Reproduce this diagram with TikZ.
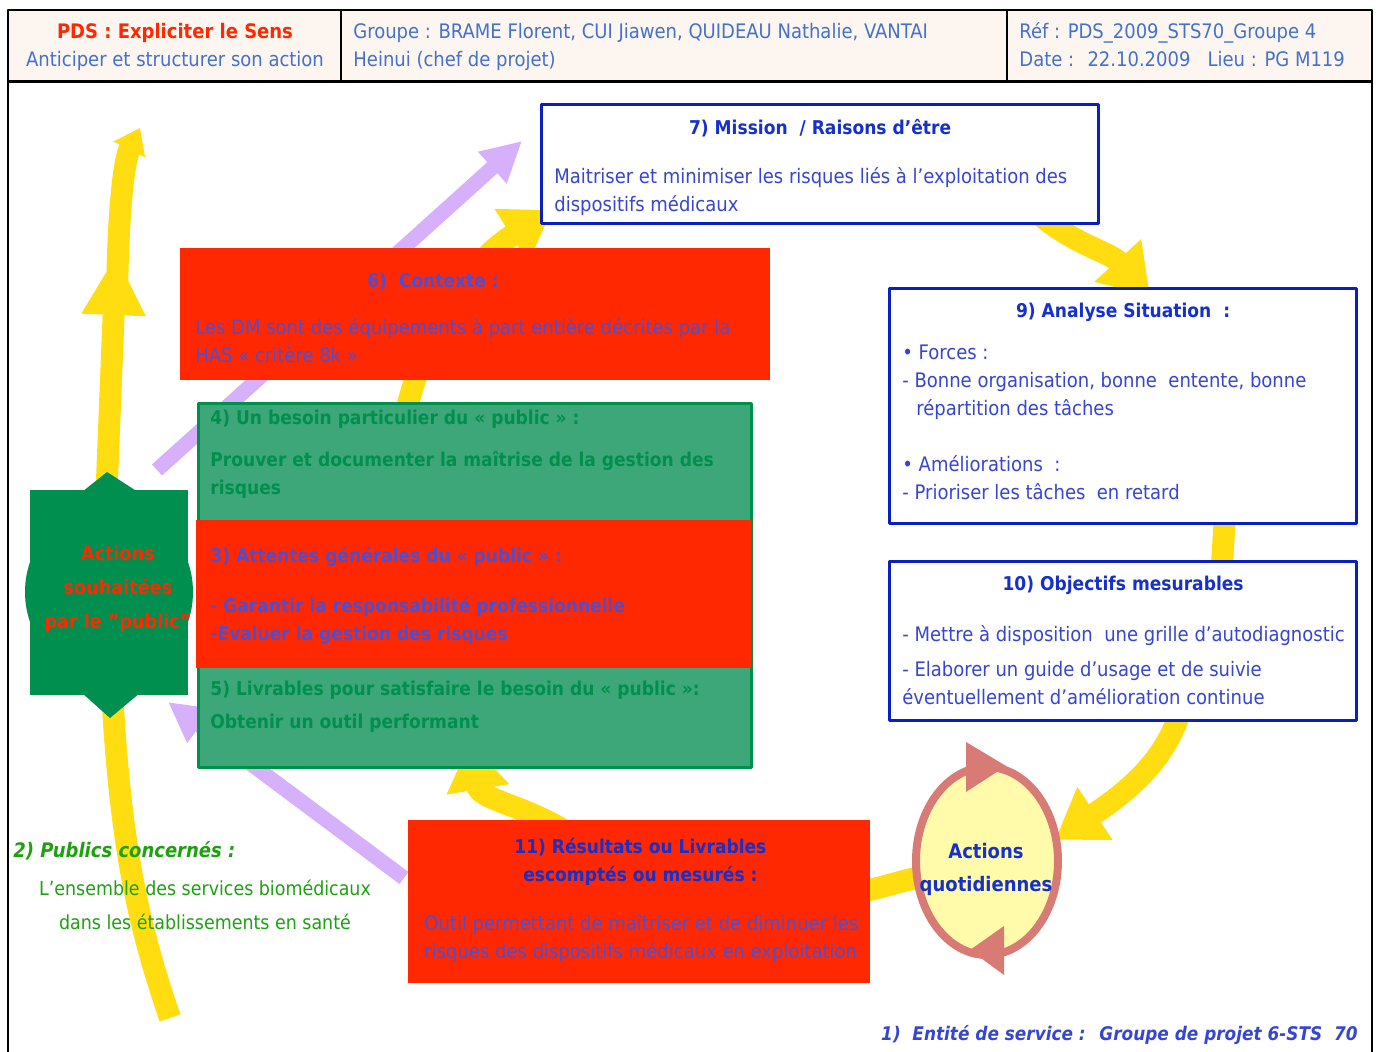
\documentclass[tikz,border=0pt]{standalone}
\usepackage{fontspec}
\setmainfont{DejaVu Sans Condensed}
\usetikzlibrary{arrows.meta}
\definecolor{boxred}{HTML}{FF2800}
\definecolor{frameblue}{HTML}{0A1FBF}
\definecolor{ttlblue}{HTML}{1530CC}
\definecolor{bodyblue}{HTML}{3646D2}
\definecolor{redtxt}{HTML}{4A4FD6}
\definecolor{hdrblue}{HTML}{4272CC}
\definecolor{hdrfill}{HTML}{FDF5EF}
\definecolor{gfill}{HTML}{3EA77A}
\definecolor{gline}{HTML}{00904E}
\definecolor{dkgreen}{HTML}{008F4E}
\definecolor{sunyel}{HTML}{FFDD10}
\definecolor{lilac}{HTML}{D6B0FB}
\definecolor{ringred}{HTML}{D87B75}
\definecolor{ringfill}{HTML}{FFFBAA}
\definecolor{pubgreen}{HTML}{1EA010}
\newcommand\hdrfont{\fontsize{10}{13}\selectfont}
\newcommand\bodyfont{\fontsize{10}{14}\selectfont}
\newcommand\ttlfont{\fontsize{9.5}{14}\selectfont\bfseries}

\begin{document}
\begin{tikzpicture}[x=0.5pt,y=-0.5pt,line join=round,
  txt/.style={inner sep=0pt,align=left},
  yel/.style={draw=sunyel,line width=11pt},
  yeltip/.style={-{Triangle[length=24pt,width=30pt]}},
  vio/.style={draw=lilac,line width=7.5pt,-{Triangle[length=20pt,width=20pt]}},
  redbox/.style={fill=boxred,draw=none,anchor=north west,inner sep=0pt},
  wbox/.style={fill=white,draw=frameblue,line width=1.6pt,anchor=north west,inner sep=0pt},
  gbox/.style={fill=gfill,draw=gline,line width=1.6pt,anchor=north west,inner sep=0pt}]
\useasboundingbox (0,0) rectangle (1377,1052);

% header
\fill[hdrfill] (8,10) rectangle (1372,82);
\draw[line width=1.2pt] (8,1052) -- (8,10) -- (1372,10) -- (1372,1052);
\draw[line width=1.5pt] (8,82) -- (1372,82);
\draw[line width=1pt] (341,10) -- (341,82) (1007,10) -- (1007,82);
\node[txt,anchor=mid,font=\hdrfont\bfseries,text=boxred] (pds) at (175,33) {PDS : Expliciter le Sens};
\node[txt,anchor=mid,font=\hdrfont,text=hdrblue] (antic) at (175,61) {Anticiper et structurer son action};
\node[txt,anchor=mid west,font=\hdrfont,text=hdrblue] (grpa) at (353,33) {Groupe : BRAME Florent, CUI Jiawen, QUIDEAU Nathalie, VANTAI};
\node[txt,anchor=mid west,font=\hdrfont,text=hdrblue] (grpb) at (353,61) {Heinui (chef de projet)};
\node[txt,anchor=mid west,font=\hdrfont,text=hdrblue] (ref) at (1019,33) {Réf : PDS\_2009\_STS70\_Groupe 4};
\node[txt,anchor=mid west,font=\hdrfont,text=hdrblue] (date) at (1019,61) {Date : \ 22.10.2009 \ \ Lieu : PG M119};

% arrow ends
\coordinate (lbot) at (170,1018);
\coordinate (lmid) at (107,480);
\coordinate (ltop) at (140,128);
\coordinate (vaa) at (157,470);
\coordinate (vab) at (522,141);
\coordinate (vba) at (404,878);
\coordinate (vbb) at (168,702);

% yellow loop
\draw[yel] (lbot) .. controls (130,900) and (108,800) .. (lmid);
\draw[yel,-{Triangle[length=30pt,width=30pt]}] (lmid) -- (116,255);
\draw[yel,-{Triangle[length=12pt,width=17pt]}] (117,300) .. controls (118,210) and (124,160) .. (ltop);
\draw[yel,yeltip] (400,440) .. controls (420,330) and (470,262) .. (552,210);
\draw[yel,yeltip] (590,850) .. controls (545,808) and (480,802) .. (470,742);
\draw[yel,yeltip] (1040,215) .. controls (1075,245) and (1110,252) .. (1150,296);
\draw[yel] (1225,515) -- (1222,565);
\draw[yel,yeltip] (1180,712) .. controls (1165,760) and (1130,790) .. (1055,840);
\draw[yel] (925,876) .. controls (900,881) and (885,887) .. (860,892);
\draw[vio] (vaa) -- (vab);
\draw[vio] (vba) -- (vbb);

% public shape
\fill[dkgreen] (30,490) rectangle (188,695);
\fill[dkgreen] (109,592) ellipse [x radius=84,y radius=88];
\fill[dkgreen] (82,492) -- (107,472) -- (138,492) -- cycle (82,693) -- (110,718) -- (140,693) -- cycle;
\node[txt,align=center,anchor=center,font=\fontsize{9.8}{17}\selectfont\bfseries,text=boxred] (wish) at (118,589) {Actions\\souhaitées\\par le "public"};

% 7
\node[wbox,minimum width=278.5pt,minimum height=59.5pt] (mission) at (540,103) {};
\node[txt,anchor=mid,font=\ttlfont,text=ttlblue] (missionT) at ([shift={(0,26)}]mission.north) {7) Mission \ / Raisons d'être};
\node[txt,anchor=north west,font=\bodyfont,text=bodyblue] (missionB) at ([shift={(14,64)}]mission.north west) {Maitriser et minimiser les risques liés à l'exploitation des\\dispositifs médicaux};

% 6
\node[redbox,minimum width=295pt,minimum height=66pt] (ctx) at (180,248) {};
\node[txt,anchor=mid,font=\ttlfont,text=redtxt] (ctxT) at ([shift={(253,34)}]ctx.north west) {6) \ Contexte :};
\node[txt,anchor=north west,font=\bodyfont,text=redtxt] (ctxB) at ([shift={(15,70)}]ctx.north west) {Les DM sont des équipements à part entière décrites par la\\HAS « critère 8k »};

% 4 and 5
\node[gbox,minimum width=276.5pt,minimum height=182pt] (need) at (197,402) {};
\node[txt,anchor=north west,font=\ttlfont,text=gline] (needT) at ([shift={(13,8)}]need.north west) {4) Un besoin particulier du « public » :};
\node[txt,anchor=north west,font=\ttlfont,text=gline] (needB) at ([shift={(13,49)}]need.north west) {Prouver et documenter la maîtrise de la gestion des\\risques};
\node[txt,anchor=north west,font=\ttlfont,text=gline] (delivT) at ([shift={(13,-89)}]need.south west) {5) Livrables pour satisfaire le besoin du « public »:};
\node[txt,anchor=north west,font=\ttlfont,text=gline] (delivB) at ([shift={(13,-56)}]need.south west) {Obtenir un outil performant};

% 3
\node[redbox,minimum width=277.5pt,minimum height=74pt] (expect) at (196,520) {};
\node[txt,anchor=north west,font=\ttlfont,text=redtxt] (expectT) at ([shift={(14,27)}]expect.north west) {3) Attentes générales du « public » :};
\node[txt,anchor=north west,font=\ttlfont,text=redtxt] (expectB) at ([shift={(14,77)}]expect.north west) {- Garantir la responsabilité professionnelle\\-Evaluer la gestion des risques};

% 9
\node[wbox,minimum width=233.5pt,minimum height=117.5pt] (situ) at (888,287) {};
\node[txt,anchor=mid,font=\ttlfont,text=ttlblue] (situT) at ([shift={(0,25)}]situ.north) {9) Analyse Situation \ :};
\node[txt,anchor=north west,font=\bodyfont,text=bodyblue] (situB) at ([shift={(14,58)}]situ.north west) {\textbullet\ Forces :\\- Bonne organisation, bonne \ entente, bonne\\\hspace*{7pt}répartition des tâches\\[14pt]\textbullet\ Améliorations \ :\\- Prioriser les tâches \ en retard};

% 10
\node[wbox,minimum width=233.5pt,minimum height=79.5pt] (goal) at (888,560) {};
\node[txt,anchor=mid,font=\ttlfont,text=ttlblue] (goalT) at ([shift={(0,25)}]goal.north) {10) Objectifs mesurables};
\node[txt,anchor=north west,font=\bodyfont,text=bodyblue] (goalB) at ([shift={(14,65)}]goal.north west) {- Mettre à disposition \ une grille d'autodiagnostic\\[3.5pt]- Elaborer un guide d'usage et de suivie\\éventuellement d'amélioration continue};

% daily actions
\draw[draw=ringred,fill=ringfill,line width=4pt] (987,861) ellipse [x radius=71,y radius=94];
\fill[ringred] (966,742) -- (1006,766) -- (966,792) -- cycle (1004,926) -- (970,950) -- (1004,975) -- cycle;
\node[txt,align=center,anchor=center,font=\fontsize{10}{16.5}\selectfont\bfseries,text=ttlblue] (daily) at (986,869) {Actions\\quotidiennes};

% 11
\node[redbox,minimum width=231pt,minimum height=81.5pt] (result) at (408,820) {};
\node[txt,align=center,anchor=center,font=\ttlfont,text=ttlblue] (resultT) at ([shift={(1,42)}]result.north) {11) Résultats ou Livrables\\escomptés ou mesurés :};
\node[txt,anchor=north west,font=\bodyfont,text=redtxt] (resultB) at ([shift={(16,94)}]result.north west) {Outil permettant de maîtriser et de diminuer les\\risques des dispositifs médicaux en exploitation};

% publics, entity
\node[txt,anchor=mid west,font=\fontsize{10}{14}\selectfont\bfseries\itshape,text=pubgreen] (pubT) at (13,852) {2) Publics concernés :};
\node[txt,align=center,anchor=north,font=\fontsize{9.7}{17}\selectfont,text=pubgreen] (pubB) at (205,880) {L'ensemble des services biomédicaux\\dans les établissements en santé};
\node[txt,anchor=mid east,font=\fontsize{9.4}{14}\selectfont\bfseries\itshape,text=bodyblue] (entity) at (1358,1035) {1) \ Entité de service : \ Groupe de projet 6-STS \ 70};
\end{tikzpicture}
\end{document}
